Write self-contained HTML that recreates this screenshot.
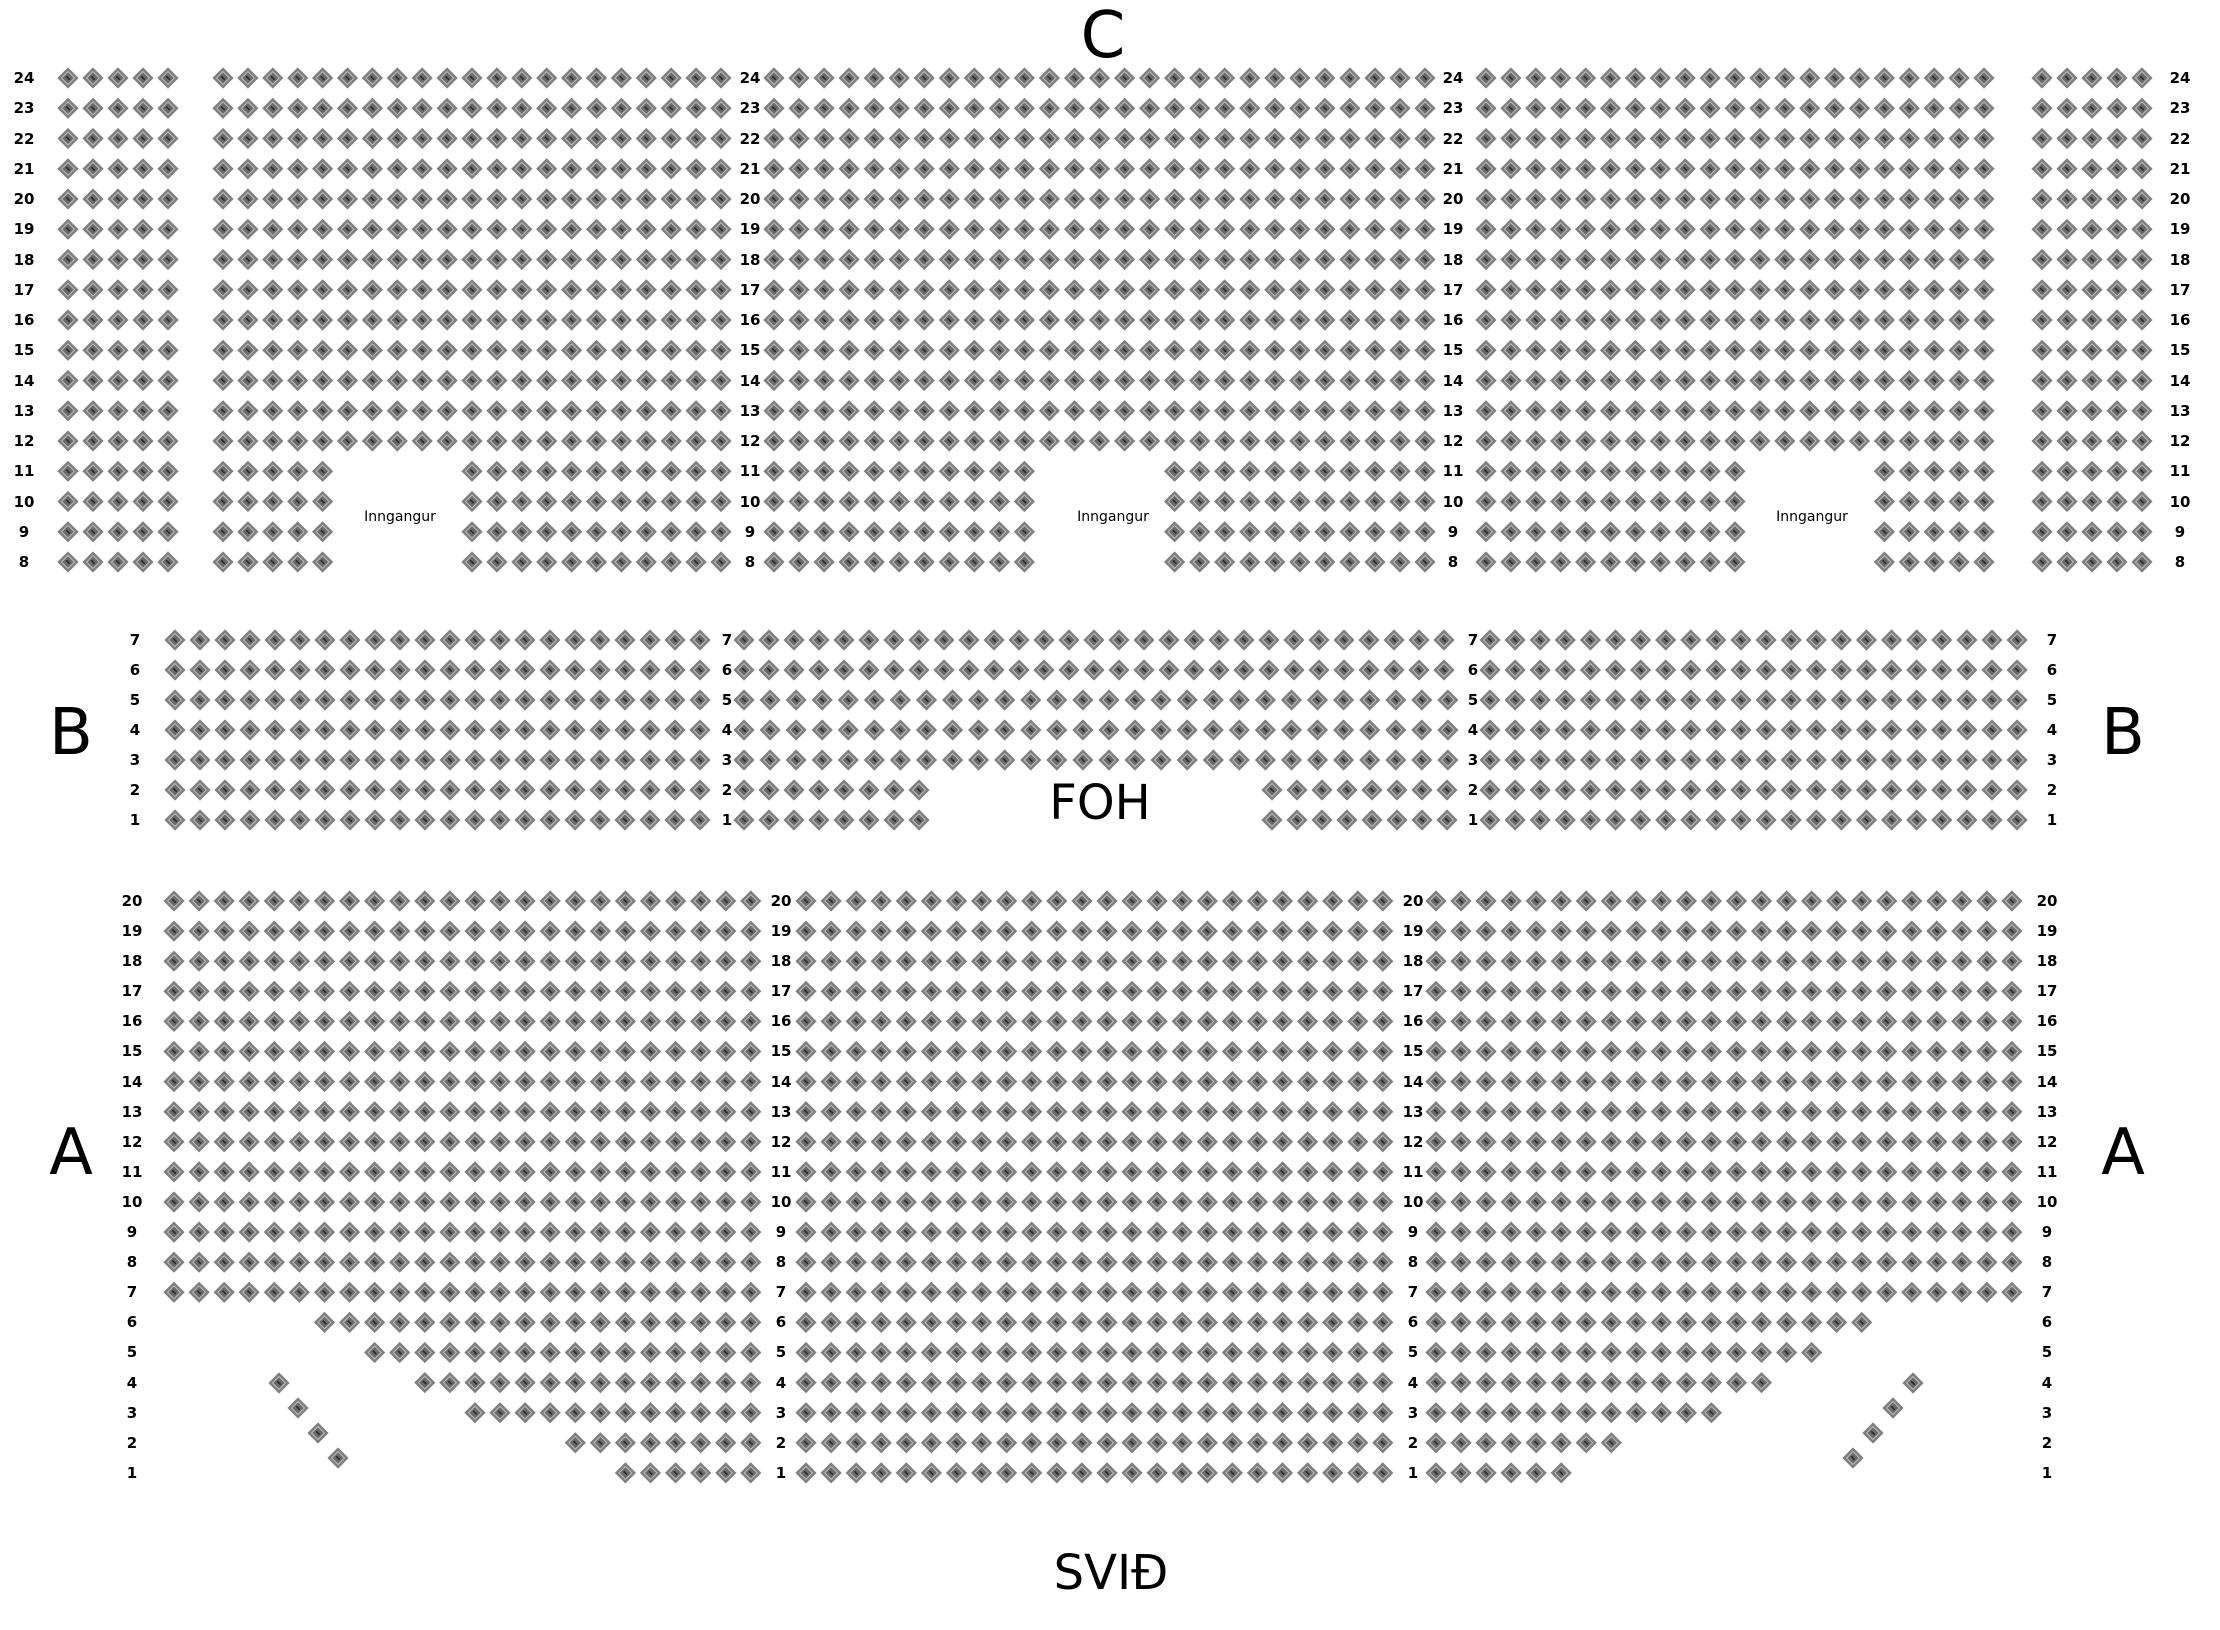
<!DOCTYPE html>
<html><head><meta charset="utf-8">
<style>
html,body{margin:0;padding:0;background:#fff;}
#wrap{position:relative;width:2220px;height:1630px;overflow:hidden;background:#fff;font-family:"DejaVu Sans","Liberation Sans",sans-serif;}
svg{position:absolute;left:0;top:0;}
.col{position:absolute;width:40px;text-align:center;font-weight:bold;font-size:15px;color:#000;}
.c{line-height:30.25px;top:63px;}
.b{line-height:30px;top:625px;}
.a{line-height:30.1px;top:886px;}
.big{position:absolute;transform:translate(-50%,-50%);color:#000;white-space:nowrap;line-height:1;}
.inn{position:absolute;transform:translate(-50%,-50%);font-size:14px;color:#000;}
</style></head><body>
<div id="wrap">
<svg id="s" width="2220" height="1630" xmlns="http://www.w3.org/2000/svg"></svg>

<div class="col c" style="left:4px">24<br>23<br>22<br>21<br>20<br>19<br>18<br>17<br>16<br>15<br>14<br>13<br>12<br>11<br>10<br>9<br>8</div>
<div class="col c" style="left:730px">24<br>23<br>22<br>21<br>20<br>19<br>18<br>17<br>16<br>15<br>14<br>13<br>12<br>11<br>10<br>9<br>8</div>
<div class="col c" style="left:1433px">24<br>23<br>22<br>21<br>20<br>19<br>18<br>17<br>16<br>15<br>14<br>13<br>12<br>11<br>10<br>9<br>8</div>
<div class="col c" style="left:2160px">24<br>23<br>22<br>21<br>20<br>19<br>18<br>17<br>16<br>15<br>14<br>13<br>12<br>11<br>10<br>9<br>8</div>

<div class="col b" style="left:115px">7<br>6<br>5<br>4<br>3<br>2<br>1</div>
<div class="col b" style="left:707px">7<br>6<br>5<br>4<br>3<br>2<br>1</div>
<div class="col b" style="left:1453px">7<br>6<br>5<br>4<br>3<br>2<br>1</div>
<div class="col b" style="left:2032px">7<br>6<br>5<br>4<br>3<br>2<br>1</div>

<div class="col a" style="left:112px">20<br>19<br>18<br>17<br>16<br>15<br>14<br>13<br>12<br>11<br>10<br>9<br>8<br>7<br>6<br>5<br>4<br>3<br>2<br>1</div>
<div class="col a" style="left:761px">20<br>19<br>18<br>17<br>16<br>15<br>14<br>13<br>12<br>11<br>10<br>9<br>8<br>7<br>6<br>5<br>4<br>3<br>2<br>1</div>
<div class="col a" style="left:1393px">20<br>19<br>18<br>17<br>16<br>15<br>14<br>13<br>12<br>11<br>10<br>9<br>8<br>7<br>6<br>5<br>4<br>3<br>2<br>1</div>
<div class="col a" style="left:2027px">20<br>19<br>18<br>17<br>16<br>15<br>14<br>13<br>12<br>11<br>10<br>9<br>8<br>7<br>6<br>5<br>4<br>3<br>2<br>1</div>

<div class="inn" style="left:400px;top:517px">Inngangur</div>
<div class="inn" style="left:1113px;top:517px">Inngangur</div>
<div class="inn" style="left:1812px;top:517px">Inngangur</div>

<div class="big" style="left:1103px;top:36px;font-size:64px">C</div>
<div class="big" style="left:71px;top:733px;font-size:64px">B</div>
<div class="big" style="left:2123px;top:733px;font-size:64px">B</div>
<div class="big" style="left:71px;top:1153px;font-size:64px">A</div>
<div class="big" style="left:2123px;top:1153px;font-size:64px">A</div>
<div class="big" style="left:1100px;top:803px;font-size:48px">FOH</div>
<div class="big" style="left:1111px;top:1573px;font-size:48px">SVIÐ</div>
</div>
<script>
var out=[];
function seat(x,y){
  out.push('<g transform="translate('+x.toFixed(1)+','+y.toFixed(1)+') rotate(45)"><rect x="-7.5" y="-7.5" width="15" height="15" fill="#7f7f7f"/><rect x="-4.5" y="-4.5" width="9" height="9" fill="#6a6a6a" stroke="#bdbdbd" stroke-width="1"/><rect x="-2.5" y="-0.8" width="5" height="1.6" fill="#2a2a2a"/></g>');
}
function row(x0,p,n,y,skipFrom,skipTo){
  for(var i=0;i<n;i++){ if(skipFrom!==undefined && i>=skipFrom && i<=skipTo) continue; seat(x0+i*p,y); }
}
for(var r=8;r<=24;r++){
  var y=78+(24-r)*30.25, low=r<=11;
  row(68,25,5,y);
  if(low) row(223,24.9,21,y,5,9); else row(223,24.9,21,y);
  if(low) row(774,25.04,27,y,11,15); else row(774,25.04,27,y);
  if(low) row(1486,24.9,21,y,11,15); else row(1486,24.9,21,y);
  row(2042,25,5,y);
}
for(var r=1;r<=7;r++){
  var y=640+(7-r)*30;
  row(175,25,22,y);
  if(r>=6) row(744,25,29,y);
  else if(r>=3) row(744,26.07,28,y);
  else { row(744,25,8,y); row(1272,25,8,y); }
  row(1490,25.1,22,y);
}
var st={6:6,5:8,4:10,3:12,2:16,1:18}, en={6:17,5:15,4:13,3:11,2:7,1:5};
for(var r=1;r<=20;r++){
  var y=901+(20-r)*30.1;
  var s=r>=7?0:st[r], e=r>=7?23:en[r];
  for(var i=s;i<24;i++) seat(174+i*25.08,y);
  row(806,25.08,24,y);
  for(var i=0;i<=e;i++) seat(1436+i*25.04,y);
}
[[279,1383],[298,1408],[318,1433],[338,1458],[1913,1383],[1893,1408],[1873,1433],[1853,1458]].forEach(function(p){seat(p[0],p[1]);});
document.getElementById('s').innerHTML=out.join('');
</script>
</body></html>
